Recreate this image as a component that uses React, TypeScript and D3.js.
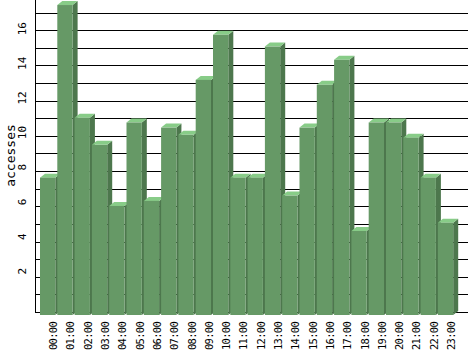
import * as d3 from 'd3';

// hourly averages
const hours = [
  '00:00', '01:00', '02:00', '03:00', '04:00', '05:00', '06:00', '07:00',
  '08:00', '09:00', '10:00', '11:00', '12:00', '13:00', '14:00', '15:00',
  '16:00', '17:00', '18:00', '19:00', '20:00', '21:00', '22:00', '23:00',
];
const accesses = [
  7.8, 17.6, 11.2, 9.66, 6.19, 10.93, 6.48, 10.64, 10.23, 13.35, 15.91, 7.8,
  7.8, 15.24, 6.78, 10.64, 13.07, 14.49, 4.77, 10.93, 10.93, 10.07, 7.8, 5.24,
];
const gridValues = d3.range(0, 18);
const tickLabels = [2, 4, 6, 8, 10, 12, 14, 16];

const W = 468;
const H = 351;
const axisX = 35;
const dx = 5; // 3d depth
const dy = 4;
const drop = 3; // front face sits a bit below the back plane

const App = () => {
  const x = d3
    .scaleBand()
    .domain(hours)
    .range([40, 453.2])
    .paddingInner(0.115)
    .paddingOuter(0);
  const y = d3.scaleLinear().domain([0, 17]).range([312, 12.6]);
  const bw = x.bandwidth();
  const mono = '"DejaVu Sans Mono", monospace';

  return (
    <svg
      width={W}
      height={H}
      style={{ position: 'absolute', left: 0, top: 0, background: '#fff' }}
    >
      {gridValues.map(v => (
        <line
          key={'g' + v}
          x1={axisX}
          x2={W}
          y1={Math.round(y(v)) + 0.5}
          y2={Math.round(y(v)) + 0.5}
          stroke="#000"
          shapeRendering="crispEdges"
        />
      ))}
      <line
        x1={axisX + 0.5}
        x2={axisX + 0.5}
        y1={0}
        y2={Math.round(y(0)) + 1}
        stroke="#000"
        shapeRendering="crispEdges"
      />

      {accesses.map((v, i) => {
        const x0 = x(hours[i]);
        const x1 = x0 + bw;
        const top = y(v) + drop;
        const bot = y(0) + drop;
        return (
          <g key={hours[i]}>
            <polygon
              points={`${x1},${top} ${x1 + dx},${top - dy} ${x1 + dx},${bot - dy} ${x1},${bot}`}
              fill="#4d774d"
            />
            <polygon
              points={`${x0},${top} ${x1},${top} ${x1 + dx},${top - dy} ${x0 + dx},${top - dy}`}
              fill="#88cc88"
            />
            <rect x={x0} y={top} width={bw} height={bot - top} fill="#669966" />
          </g>
        );
      })}

      {tickLabels.map(v => {
        const ly = y(v) - (5.5 - (v - 2) * 0.28);
        return (
          <text
            key={'t' + v}
            transform={`translate(22.5,${ly}) rotate(-90)`}
            textAnchor="middle"
            dominantBaseline="central"
            fontFamily={mono}
            fontSize={11}
            fill="#000"
          >
            {v}
          </text>
        );
      })}

      {hours.map(h => (
        <text
          key={'h' + h}
          transform={`translate(${x(h) + bw / 2 + 5.5},322) rotate(-90)`}
          textAnchor="end"
          dominantBaseline="central"
          fontFamily={mono}
          fontSize={10.5}
          letterSpacing={-0.7}
          fill="#000"
        >
          {h}
        </text>
      ))}

      <text
        transform="translate(10,155.5) rotate(-90)"
        textAnchor="middle"
        dominantBaseline="central"
        fontFamily={mono}
        fontSize={13}
        fill="#000"
      >
        accesses
      </text>
    </svg>
  );
};

export default App;
